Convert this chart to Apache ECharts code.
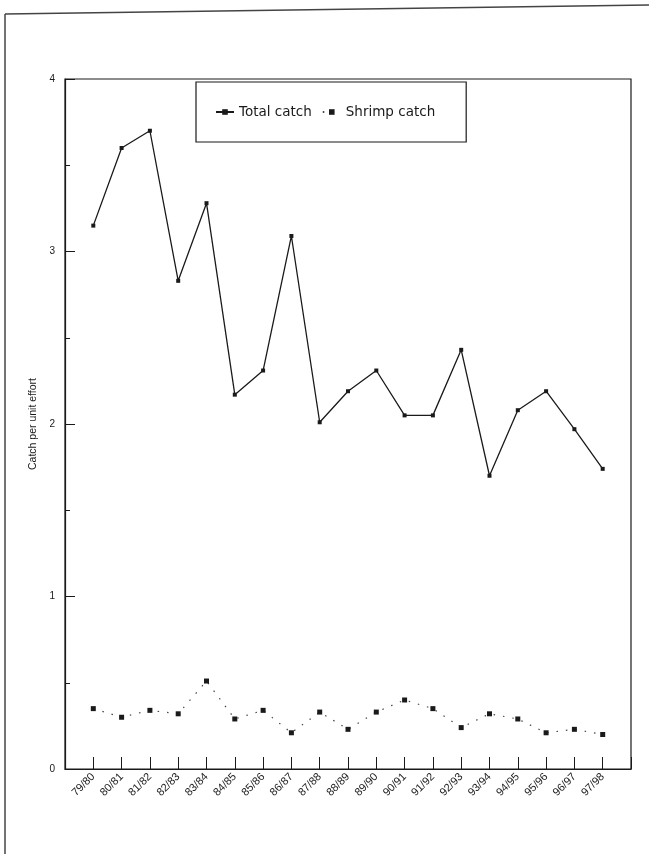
<!DOCTYPE html>
<html>
<head>
<meta charset="utf-8">
<script src="https://cdn.jsdelivr.net/npm/echarts@6/dist/echarts.min.js"></script>
<style>
  html, body { margin: 0; padding: 0; background: #fff; }
  #chart { width: 649px; height: 854px; }
</style>
</head>
<body>
<div id="chart"></div>
<script>
// Fishing seasons on the x axis
const seasons = ['79/80', '80/81', '81/82', '82/83', '83/84', '84/85', '85/86', '86/87', '87/88', '88/89',
                 '89/90', '90/91', '91/92', '92/93', '93/94', '94/95', '95/96', '96/97', '97/98'];

// Catch per unit effort
const totalCatch  = [3.15, 3.60, 3.70, 2.83, 3.28, 2.17, 2.31, 3.09, 2.01, 2.19,
                     2.31, 2.05, 2.05, 2.43, 1.70, 2.08, 2.19, 1.97, 1.74];
const shrimpCatch = [0.35, 0.30, 0.34, 0.32, 0.51, 0.29, 0.34, 0.21, 0.33, 0.23,
                     0.33, 0.40, 0.35, 0.24, 0.32, 0.29, 0.21, 0.23, 0.20];

const yTickLabels = ['0', '1', '2', '3', '4'];

const ink = '#1a1a1a';
const font = 'Liberation Sans, Arial, sans-serif';

const toPairs = arr => arr.map((v, i) => [i, v]);

const chart = echarts.init(document.getElementById('chart'), null, { renderer: 'canvas' });

chart.setOption({
  backgroundColor: '#ffffff',
  animation: false,
  textStyle: { fontFamily: font, color: ink },
  grid: {
    left: 65, right: 18, top: 79, bottom: 85,
    show: true, borderColor: ink, borderWidth: 1.2, backgroundColor: 'transparent'
  },
  legend: {
    left: 196, top: 82,
    padding: [23, 31, 23, 19],
    borderColor: ink, borderWidth: 1.2,
    itemWidth: 18, itemHeight: 7, itemGap: 10,
    textStyle: { fontSize: 13.5, color: ink, fontFamily: 'DejaVu Sans, sans-serif' },
    data: ['Total catch', 'Shrimp catch']
  },
  xAxis: {
    type: 'value',
    min: -1, max: 19, interval: 1,
    splitLine: { show: false },
    axisLine: { show: true, onZero: false, lineStyle: { color: ink, width: 1.2 } },
    axisTick: { show: true, inside: true, length: 12, lineStyle: { color: ink, width: 1 } },
    axisLabel: {
      rotate: 45, fontSize: 11, color: ink, margin: 6,
      formatter: v => (Number.isInteger(v) && v >= 0 && v < seasons.length) ? seasons[v] : ''
    }
  },
  yAxis: {
    type: 'value',
    min: 0, max: 4, interval: 1,
    name: 'Catch per unit effort',
    nameLocation: 'middle', nameGap: 20,
    nameTextStyle: { fontSize: 10.5, color: ink },
    splitLine: { show: false },
    axisLine: { show: true, onZero: false, lineStyle: { color: ink, width: 1.2 } },
    axisTick: { show: true, inside: true, length: 10, lineStyle: { color: ink, width: 1 } },
    minorTick: { show: true, splitNumber: 2, length: 5, lineStyle: { color: ink, width: 1 } },
    axisLabel: {
      fontSize: 10, color: ink, margin: 10,
      formatter: v => Number.isInteger(v) ? yTickLabels[v] : ''
    }
  },
  graphic: [
    // page frame around the figure
    { type: 'line', shape: { x1: 5, y1: 14, x2: 649, y2: 5 }, style: { stroke: '#444', lineWidth: 1.5 } },
    { type: 'line', shape: { x1: 5, y1: 14, x2: 5, y2: 854 }, style: { stroke: '#444', lineWidth: 1.5 } }
  ],
  series: [
    {
      name: 'Total catch',
      type: 'line',
      data: toPairs(totalCatch),
      symbol: 'rect', symbolSize: 4,
      itemStyle: { color: ink },
      lineStyle: { color: ink, width: 1.3, type: 'solid' }
    },
    {
      name: 'Shrimp catch',
      type: 'line',
      data: toPairs(shrimpCatch),
      symbol: 'rect', symbolSize: 5,
      itemStyle: { color: ink },
      lineStyle: { color: '#444', width: 1.2, type: [1.5, 8] }
    }
  ]
});
</script>
</body>
</html>
